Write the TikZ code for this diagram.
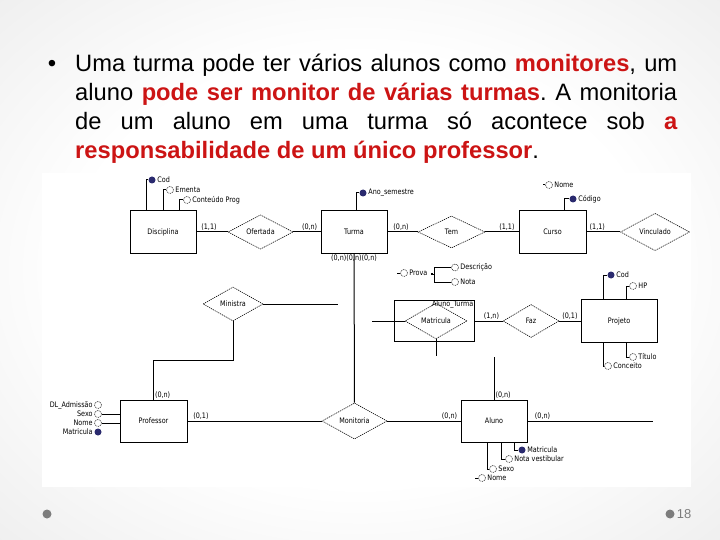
\documentclass[tikz,border=0pt]{standalone}
\usepackage{fontspec}
\setmainfont{Liberation Sans}
\newfontfamily\erfont[FakeStretch=0.85]{DejaVu Sans}
\newcommand\erf{\erfont\fontsize{7.6}{8.5}\selectfont}
\usetikzlibrary{shapes.geometric,positioning}
\definecolor{destaque}{RGB}{204,20,20}
\definecolor{chave}{RGB}{42,42,110}
\definecolor{rodape}{RGB}{125,125,125}
\pgfdeclareradialshading{fundo}{\pgfpoint{0bp}{0bp}}{color(0bp)=(white); color(20bp)=(white); color(50bp)=(black!12); color(71bp)=(black!22)}
\hyphenpenalty=10000
\exhyphenpenalty=10000
\tolerance=9999
\frenchspacing
\begin{document}
\begin{tikzpicture}
  [x=1bp,y=-1bp,
   ent/.style={draw,line width=1bp,minimum width=66bp,minimum height=42bp,inner sep=0pt,font=\erf},
   rel/.style={diamond,draw,dash pattern=on 1.2bp off .9bp,line width=.6bp,inner sep=0pt,font=\erf},
   card/.style={inner sep=1bp,font=\erf},
   nome/.style={inner sep=1.5bp,font=\erf},
   chv/.style={circle,fill=chave,minimum size=7bp,inner sep=0pt},
   att/.style={circle,draw,dash pattern=on 1bp off .8bp,line width=.5bp,minimum size=7bp,inner sep=0pt},
   liga/.style={line width=1bp}]
  % fundo do slide
  \shade[shading=fundo] (0,0) rectangle (720,540);
  \useasboundingbox (0,0) rectangle (720,540);
  \fill[white] (42,173) rectangle (691,487);

  % texto
  \node[anchor=base,inner sep=0pt,font=\fontsize{24}{29}\selectfont] (bala) at (52,72) {•};
  \node[anchor=north west,inner sep=0pt,text width=602bp,align=justify,
        font=\fontsize{23.8}{29}\selectfont] (texto) at (75,54)
    {Uma turma pode ter vários alunos como \textbf{\color{destaque}monitores}, um\linebreak
     aluno \textbf{\color{destaque}pode ser monitor de várias turmas}. A monitoria\linebreak
     de um aluno em uma turma só acontece sob \textbf{\color{destaque}a\linebreak
     responsabilidade de um único professor}.};

  % entidades
  \node[ent] (disc) at (163,232) {Disciplina};
  \node[ent] (turma) at (354,232) {Turma};
  \node[ent,minimum width=67bp] (curso) at (552.5,232) {Curso};
  \node[ent,minimum width=67bp] (prof) at (153.5,421) {Professor};
  \node[ent] (aluno) at (494,421) {Aluno};
  \node[ent,minimum width=76bp,minimum height=43bp] (proj) at (619,321) {Projeto};
  \node[ent,minimum width=80bp,minimum height=41bp] (alt) at (434,321) {};
  \node[card,anchor=north east] (altnome) at (alt.north east) {Aluno\_Turma};

  % relacionamentos
  \node[rel,minimum width=65bp,minimum height=31bp] (ofer) at (260.5,232) {Ofertada};
  \node[rel,minimum width=67bp,minimum height=32bp] (tem) at (451.5,232) {Tem};
  \node[rel,minimum width=69bp,minimum height=32bp] (vinc) at (655,232) {Vinculado};
  \node[rel,minimum width=60bp,minimum height=34bp] (minis) at (233,304) {Ministra};
  \node[rel,minimum width=65bp,minimum height=34bp] (moni) at (354.5,421) {Monitoria};
  \node[rel,minimum width=56bp,minimum height=33bp] (faz) at (531,321) {Faz};
  \node[rel,minimum width=62bp,minimum height=24bp] (matr) at (436,321) {Matricula};

  \foreach \a/\b/\p/\c in {disc/ofer/.4/{(1,1)},ofer/turma/.6/{(0,n)},turma/tem/.45/{(0,n)},
      tem/curso/.65/{(1,1)},curso/vinc/.32/{(1,1)},prof/moni/.1/{(0,1)},
      moni/aluno/.85/{(0,n)},alt/faz/.6/{(1,n)},faz/proj/.5/{(0,1)}}
    \draw[liga] (\a) -- node[card,pos=\p,above] {\c} (\b);

  \coordinate (fimmin) at (338,304);
  \coordinate (fimaluno) at (494,357);
  \coordinate (fimdir) at (653,421);
  \coordinate (fimmatr) at (436,356);
  \coordinate (inialt) at (372,321);
  \node[card,below=0pt of turma] (cardturma) {(0,n)(0,n)(0,n)};
  \draw[liga] (turma) -- (moni);
  \draw[liga] (minis) -- (fimmin);
  \draw[liga] (minis) -- ++(0,56) -| node[card,pos=.95,right] {(0,n)} (prof);
  \draw[liga] (aluno) -- node[card,pos=.1,right] {(0,n)} (fimaluno);
  \draw[liga] (aluno) -- node[card,pos=.12,above] {(0,n)} (fimdir);
  \draw[liga] (matr) -- (fimmatr);
  \draw[liga] (inialt) -- (matr);

  % atributos
  \node[chv,label={[nome]right:Cod}] (dcod) at (152,180) {};
  \node[att,label={[nome]right:Ementa}] (dem) at (170,190) {};
  \node[att,label={[nome]right:Conteúdo Prog}] (dcp) at (187,200) {};
  \draw[liga] (dcod) -| ([xshift=-17bp]disc.north);
  \draw[liga] (dem) -| (disc.north);
  \draw[liga] (dcp) -| ([xshift=16bp]disc.north);

  \node[chv,label={[nome]right:Ano\_semestre}] (tano) at (363,193) {};
  \draw[liga] (tano) -| ([xshift=2bp]turma.north);

  \node[att,label={[nome]right:Nome}] (cnome) at (549,185) {};
  \node[chv,label={[nome]right:Código}] (ccod) at (573,199) {};
  \draw[liga] (cnome) -- ++(-6,0);
  \draw[liga] (ccod) -| ([xshift=11.5bp]curso.north);

  \node[chv,label={[nome]right:Cod}] (pcod) at (611,275) {};
  \node[att,label={[nome]right:HP}] (php) at (633,286) {};
  \node[att,label={[nome]right:Título}] (ptit) at (633,357) {};
  \node[att,label={[nome]right:Conceito}] (pcon) at (608,366) {};
  \draw[liga] (pcod) -| ([xshift=-16bp]proj.north);
  \draw[liga] (php) -| ([xshift=7bp]proj.north);
  \draw[liga] (ptit) -| ([xshift=7bp]proj.south);
  \draw[liga] (pcon) -| ([xshift=-16bp]proj.south);

  \foreach \n/\y/\t/\s in {padm/405/DL\_Admissão/att,psex/414/Sexo/att,pnom/423/Nome/att,pmat/432/Matricula/chv}
    \node[\s,label={[nome]left:\t}] (\n) at (98,\y) {};
  \draw[liga] (psex) -- (psex -| prof.west);
  \draw[liga] (pnom) -- (pnom -| prof.west);

  \node[chv,label={[nome]right:Matricula}] (amat) at (522,450) {};
  \node[att,label={[nome]right:Nota vestibular}] (anv) at (509,459) {};
  \node[att,label={[nome]right:Sexo}] (asex) at (493,469) {};
  \node[att,label={[nome]right:Nome}] (anom) at (482,478) {};
  \draw[liga] (amat) -| ([xshift=20bp]aluno.south);
  \draw[liga] (anv) -| ([xshift=7bp]aluno.south);
  \draw[liga] (asex) -| ([xshift=-7bp]aluno.south);
  \draw[liga] (anom) -- ++(-7,0);

  \node[att,label={[nome]right:Prova}] (prova) at (404,273) {};
  \node[fill,inner sep=0pt,minimum size=2.5bp] (pquad) at (432,274) {};
  \node[att,label={[nome]right:Descrição}] (pdesc) at (455,267.5) {};
  \node[att,label={[nome]right:Nota}] (pnota) at (455,282) {};
  \coordinate (pjunta) at (434,274);
  \draw[liga] (prova) -- ++(-7,0);
  \draw[liga] (pquad) -- (pjunta);
  \draw[liga] (pdesc) -| (pjunta);
  \draw[liga] (pnota) -| (pjunta);

  % rodape
  \fill[rodape] (47,514) circle (4.5bp);
  \fill[rodape] (670,514) circle (4.5bp);
  \node[text=rodape,font=\fontsize{13}{15}\selectfont,inner sep=0pt] (pagina) at (684,514) {18};
\end{tikzpicture}
\end{document}
